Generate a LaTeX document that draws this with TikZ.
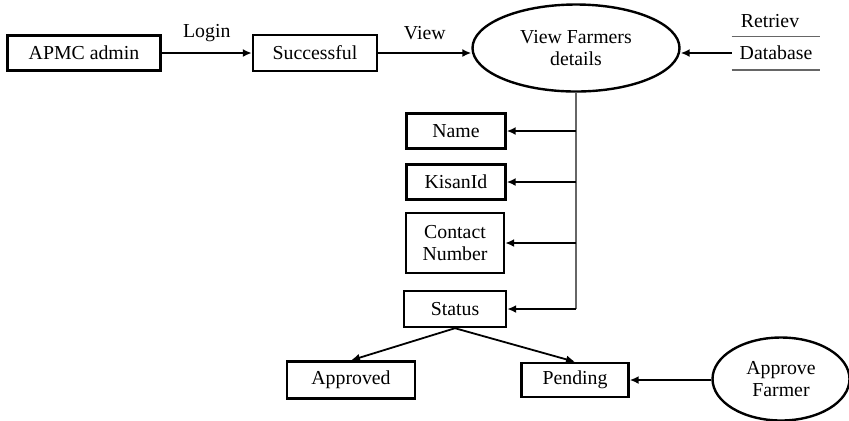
\documentclass[tikz,border=0pt]{standalone}
\usepackage{fontspec}
\setmainfont{Liberation Serif}
\usepackage{tikz}
\usetikzlibrary{positioning,shapes.geometric,arrows.meta}

\begin{document}
\begin{tikzpicture}[
  x=0.5pt, y=-0.5pt,
  font=\fontsize{9.9}{11}\selectfont,
  >={Latex[length=4.5pt,width=4pt]},
  box/.style={
    draw, line width=1.2pt,
    inner sep=2pt,
    align=center
  },
  proc/.style={
    draw, ellipse, line width=1.2pt,
    inner sep=0pt,
    align=center
  },
  flow/.style={->, line width=0.9pt},
  trunk/.style={line width=0.6pt, gray!80!black}
]

\useasboundingbox (0,0) rectangle (849,420);

\node[box, minimum width=76.5pt, minimum height=17.5pt] (admin) at (84,53) {APMC admin};
\node[box, minimum width=62pt, minimum height=18pt] (succ) at (315,53) {Successful};
\node[proc, minimum width=103.5pt, minimum height=43.5pt] (view) at (576,48) {View Farmers\\details};
\node[minimum width=44pt, minimum height=16.5pt, inner sep=0pt] (db) at (776,53) {Database};

\node[box, minimum width=49.5pt, minimum height=17.5pt] (name) at (456,131) {Name};
\node[box, minimum width=49.5pt, minimum height=17.5pt] (kisan) at (456,182) {KisanId};
\node[box, minimum width=49pt, minimum height=30pt] (contact) at (455,243) {Contact\\Number};
\node[box, minimum width=51pt, minimum height=18pt] (status) at (455,309) {Status};

\node[box, minimum width=64pt, minimum height=18.5pt] (approved) at (351,380) {Approved};
\node[box, minimum width=53.5pt, minimum height=17pt] (pending) at (575,380) {Pending};
\node[proc, minimum width=68.5pt, minimum height=41.5pt] (approve) at (781,379) {Approve\\Farmer};

% database store lines
\draw[trunk] (db.north west) -- (db.north east);
\draw[trunk] (db.south west) -- (db.south east);

% top flow
\draw[flow] (admin.east) -- node[above=2pt] {Login} (succ.west);
\draw[flow] (succ.east) -- node[above=3pt] {View} (succ.east -| view.west);
\draw[flow] (db.west) -- (db.west -| view.east);
\node (retr) at (770,21) {Retriev};

% details
\draw[trunk] (view.south) -- (view.south |- status.east);
\draw[flow] (view.south |- name.east) -- (name.east);
\draw[flow] (view.south |- kisan.east) -- (kisan.east);
\draw[flow] (view.south |- contact.east) -- (contact.east);
\draw[flow] (view.south |- status.east) -- (status.east);

% status
\draw[flow] (status.south) -- (approved.north);
\draw[flow] (status.south) -- (pending.north);
\draw[flow] (pending.east -| approve.west) -- (pending.east);

\end{tikzpicture}
\end{document}
